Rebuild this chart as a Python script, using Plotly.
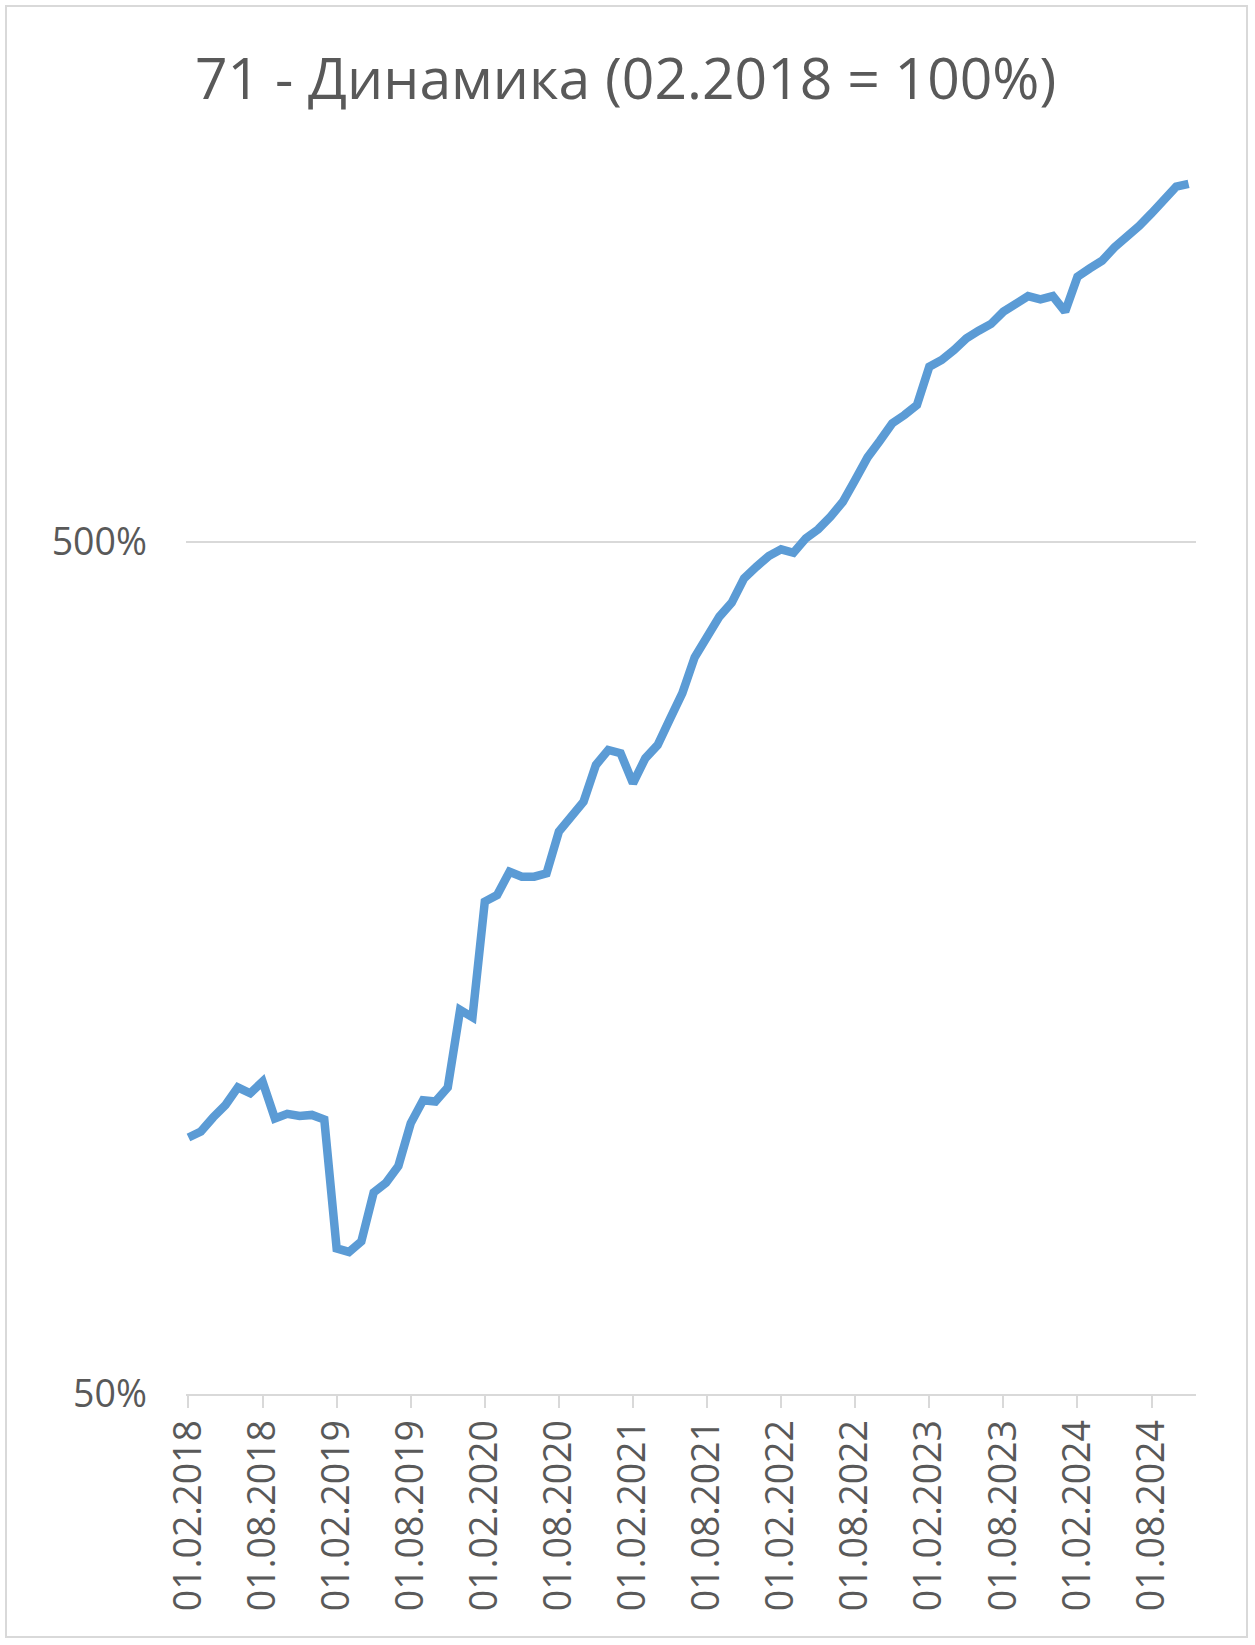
import plotly.graph_objects as go
import math

# ---- data (values in % of 02.2018) ----
start_year, start_month = 2018, 2
values = [
    100.0, 101.6, 105.6, 109.2, 114.5, 112.7, 116.3, 105.3, 106.6, 106.0,
    106.3, 105.0, 74.1, 73.4, 75.5, 86.2, 88.5, 92.6, 103.9, 110.6,
    110.2, 114.5, 141.2, 138.4, 189.2, 192.6, 205.1, 202.4, 202.4, 204.2,
    228.6, 237.6, 247.9, 273.7, 285.0, 282.5, 260.5, 278.7, 288.9, 310.0,
    332.3, 366.2, 386.5, 408.7, 424.5, 453.3, 467.7, 481.5, 490.2, 485.7,
    505.0, 517.4, 535.4, 557.4, 591.4, 628.5, 657.3, 689.2, 704.9, 724.1,
    803.0, 817.6, 840.0, 866.9, 885.0, 901.4, 931.7, 954.7, 971.9, 963.4,
    971.9, 931.7, 1023.9, 1047.3, 1069.4, 1108.9, 1139.3, 1174.7, 1215.6, 1262.6,
    1306.2, 1316.2,
]
month_index = list(range(len(values)))
tick_index = list(range(0, 82, 6))
tick_labels = []
for k in tick_index:
    m = start_month - 1 + k
    tick_labels.append("01.%02d.%d" % (m % 12 + 1, start_year + m // 12))
y_tickvals = [50, 500, 5000]
y_ticktext = ["50%", "500%", "5000%"]
title_text = "71 - Динамика (02.2018 = 100%)"

# ---- layout geometry (pixels) ----
W, H = 1255, 1645
L, R = 186, 1196
T, B = 140, 1394
decade_px = 852.0
y_lo = math.log10(50)
y_hi = y_lo + (B - T) / decade_px

grey = "#595959"
grid = "#d9d9d9"
font = "Open Sans"

fig = go.Figure()
fig.add_trace(go.Scatter(
    x=month_index, y=values, mode="lines",
    line=dict(color="#5B9BD5", width=8.5, shape="linear"),
    hoverinfo="skip", showlegend=False,
))

def px_x(p):
    return (p - L) / (R - L)

def px_y(p):
    return (B - p) / (B - T)

fig.update_layout(
    width=W, height=H,
    margin=dict(l=L, r=W - R, t=T, b=H - B, pad=0),
    paper_bgcolor="white", plot_bgcolor="white",
    title=dict(text=title_text, x=0.4985, xanchor="center", xref="container",
               y=1 - 79 / H, yanchor="middle", yref="container",
               font=dict(family=font, size=57, color=grey)),
    xaxis=dict(
        range=[-0.2, 81.6], tickmode="array", tickvals=tick_index, ticktext=tick_labels,
        tickangle=-90, ticks="outside", ticklen=12, tickwidth=2, tickcolor=grid,
        showline=True, linecolor=grid, linewidth=2, showgrid=False, zeroline=False,
        tickfont=dict(family=font, size=37.5, color=grey), ticklabelstandoff=-3,
    ),
    yaxis=dict(
        type="log", range=[y_lo, y_hi], tickmode="array", tickvals=y_tickvals, ticktext=y_ticktext,
        showgrid=True, gridcolor=grid, gridwidth=2, showline=False, zeroline=False, ticks="",
        tickfont=dict(family=font, size=37.5, color=grey), ticklabelstandoff=38,
    ),
    shapes=[dict(type="rect", xref="paper", yref="paper",
                 x0=px_x(6), x1=px_x(1247), y0=px_y(1637), y1=px_y(6),
                 line=dict(color=grid, width=2), fillcolor="rgba(0,0,0,0)", layer="below")],
)

fig.write_html("out.html", config={"displayModeBar": False},
               post_script="document.body.style.margin='0';")
